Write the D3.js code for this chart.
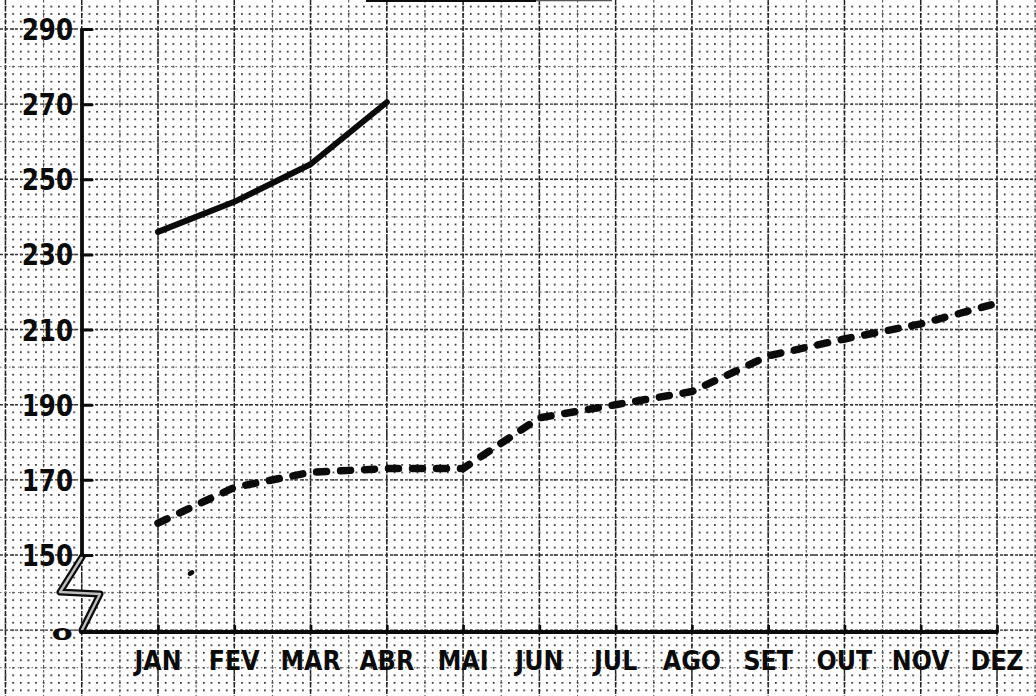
<!DOCTYPE html>
<html>
<head>
<meta charset="utf-8">
<script src="https://cdn.jsdelivr.net/npm/d3@7"></script>
<style>
  html, body { margin: 0; padding: 0; background: #fff; }
  svg { display: block; }
</style>
</head>
<body>
<script>
// Months along the bottom axis
const months = ["JAN", "FEV", "MAR", "ABR", "MAI", "JUN", "JUL", "AGO", "SET", "OUT", "NOV", "DEZ"];
// Solid series (January to April only)
const solidMonths = ["JAN", "FEV", "MAR", "ABR"];
const solidValues = [236, 244, 254, 270.5];
// Dashed series (whole year)
const dashedValues = [158.5, 168, 172, 173, 173, 186.5, 190, 193.5, 203, 207.5, 211.5, 217];
// Vertical axis ticks (the axis is broken between 0 and 150)
const yTickValues = [0, 150, 170, 190, 210, 230, 250, 270, 290];
const yTickLabels = ["0", "150", "170", "190", "210", "230", "250", "270", "290"];

const W = 1036, H = 696;
const ink = "#0b0b0b";
const FONT = "'DejaVu Sans', 'Liberation Sans', sans-serif";

const svg = d3.select("body").append("svg")
  .attr("width", W).attr("height", H)
  .attr("viewBox", `0 0 ${W} ${H}`);

const x = d3.scalePoint().domain(months).range([158, 997]);
// piecewise scale: 0 sits just below 150 because of the axis break
const y = d3.scaleLinear().domain([0, 150, 290]).range([632, 555, 29]);

const axisX = 82;

// ---------- graph paper ----------
const colStep = x.step() / 2;            // half-month column
const rowStep = y(150) - y(160);         // 10-unit row
const x0 = x("JAN"), y0 = y(150);

const defs = svg.append("defs");
const pat = defs.append("pattern")
  .attr("id", "paperDots")
  .attr("patternUnits", "userSpaceOnUse")
  .attr("width", colStep / 5)
  .attr("height", rowStep / 5)
  .attr("patternTransform", `translate(${x0 - 0.8},${y0 - 0.8})`);
pat.append("rect").attr("width", 1.7).attr("height", 1.7).attr("fill", "#262626");

svg.append("rect").attr("width", W).attr("height", H).attr("fill", "#fff");
svg.append("rect").attr("width", W).attr("height", H).attr("fill", "url(#paperDots)");

const paper = svg.append("g").attr("class", "paper");
const cols = d3.range(-5, 25).map(k => ({ pos: x0 + k * colStep, major: k % 2 === 0 }))
  .filter(d => d.pos > -2 && d.pos < W + 2);
const rows = d3.range(-5, 16).map(k => ({ pos: y0 - k * rowStep, major: k % 2 === 0 }))
  .filter(d => d.pos > -2 && d.pos < H + 2);

paper.selectAll("line.col").data(cols).join("line")
  .attr("class", "col")
  .attr("x1", d => d.pos).attr("x2", d => d.pos)
  .attr("y1", 0).attr("y2", H)
  .attr("stroke", d => d.major ? "#222" : "#555")
  .attr("stroke-width", d => d.major ? 1.5 : 1.1)
  .attr("stroke-dasharray", d => d.major ? "5,1.5" : "2.5,2.5");

paper.selectAll("line.row").data(rows).join("line")
  .attr("class", "row")
  .attr("x1", 0).attr("x2", W)
  .attr("y1", d => d.pos).attr("y2", d => d.pos)
  .attr("stroke", d => d.major ? "#333" : "#666")
  .attr("stroke-width", d => d.major ? 1.4 : 1)
  .attr("stroke-dasharray", d => d.major ? "3,2" : "1.5,3");

// remnant of a heading along the top edge
svg.append("line").attr("x1", 366).attr("x2", 536).attr("y1", 0.8).attr("y2", 0.8)
  .attr("stroke", ink).attr("stroke-width", 2.6);
svg.append("line").attr("x1", 536).attr("x2", 612).attr("y1", 0.5).attr("y2", 0.5)
  .attr("stroke", "#555").attr("stroke-width", 1.5);

// ---------- axes ----------
// vertical axis from 290 down to the break
svg.append("line")
  .attr("x1", axisX).attr("x2", axisX)
  .attr("y1", y(290)).attr("y2", y(150) + 2)
  .attr("stroke", ink).attr("stroke-width", 3.8);

// axis break (zig-zag) between 150 and 0
const breakPath = `M${axisX},${y(150) + 2} L${axisX - 22},${y(150) + 37} L${axisX + 18},${y(150) + 39} L${axisX},${y(0) - 2}`;
svg.append("path").attr("d", breakPath).attr("fill", "none")
  .attr("stroke", ink).attr("stroke-width", 7).attr("stroke-linejoin", "round").attr("stroke-linecap", "round");
svg.append("path").attr("d", breakPath).attr("fill", "none")
  .attr("stroke", "#bdbdbd").attr("stroke-width", 2.4).attr("stroke-linejoin", "round").attr("stroke-linecap", "round");

// tick stubs on the vertical axis
const yAxis = d3.axisRight(y)
  .tickValues(yTickValues.filter(v => v >= 150))
  .tickSize(10)
  .tickFormat("");
const gy = svg.append("g").attr("transform", `translate(${axisX},0)`).call(yAxis);
gy.select(".domain").remove();
gy.selectAll(".tick line").attr("stroke", ink).attr("stroke-width", 3).attr("stroke-linecap", "round");

// vertical axis labels (the zero is drawn as a wide, flat oval)
svg.append("g").selectAll("text").data(yTickValues).join("text")
  .attr("transform", d => d === 0
    ? `translate(${73},${y(d) + 8}) scale(1.4,0.75)`
    : `translate(${73},${y(d) + 11}) scale(0.82,1)`)
  .attr("text-anchor", "end")
  .attr("font-family", FONT)
  .attr("font-weight", "bold")
  .attr("font-size", d => d === 0 ? 22 : 30)
  .attr("fill", ink)
  .text((d, i) => yTickLabels[i]);

// horizontal axis
svg.append("line")
  .attr("x1", axisX - 1).attr("x2", x("DEZ"))
  .attr("y1", y(0)).attr("y2", y(0))
  .attr("stroke", ink).attr("stroke-width", 3.8).attr("stroke-linecap", "round");

const xAxis = d3.axisTop(x).tickSize(7).tickFormat("");
const gx = svg.append("g").attr("transform", `translate(0,${y(0)})`).call(xAxis);
gx.select(".domain").remove();
gx.selectAll(".tick line").attr("stroke", ink).attr("stroke-width", 2.6);

svg.append("g").selectAll("text").data(months).join("text")
  .attr("transform", d => `translate(${x(d)},${670}) scale(0.88,1)`)
  .attr("text-anchor", "middle")
  .attr("font-family", FONT)
  .attr("font-weight", "bold")
  .attr("font-size", 27)
  .attr("fill", ink)
  .text(d => d);

// ---------- series ----------
const solidData = solidMonths.map((m, i) => ({ m, v: solidValues[i] }));
const dashedData = months.map((m, i) => ({ m, v: dashedValues[i] }));

const line = d3.line()
  .x(d => x(d.m))
  .y(d => y(d.v));

svg.append("path")
  .datum(dashedData)
  .attr("d", line)
  .attr("fill", "none")
  .attr("stroke", ink)
  .attr("stroke-width", 7.5)
  .attr("stroke-linecap", "round")
  .attr("stroke-linejoin", "round")
  .attr("stroke-dasharray", "10,14");

svg.append("path")
  .datum(solidData)
  .attr("d", line)
  .attr("fill", "none")
  .attr("stroke", ink)
  .attr("stroke-width", 6)
  .attr("stroke-linecap", "round")
  .attr("stroke-linejoin", "round");

// small ink speck on the sheet
svg.append("ellipse")
  .attr("cx", 191).attr("cy", 573).attr("rx", 3.6).attr("ry", 2.4)
  .attr("transform", "rotate(-35,191,573)")
  .attr("fill", ink);
</script>
</body>
</html>
